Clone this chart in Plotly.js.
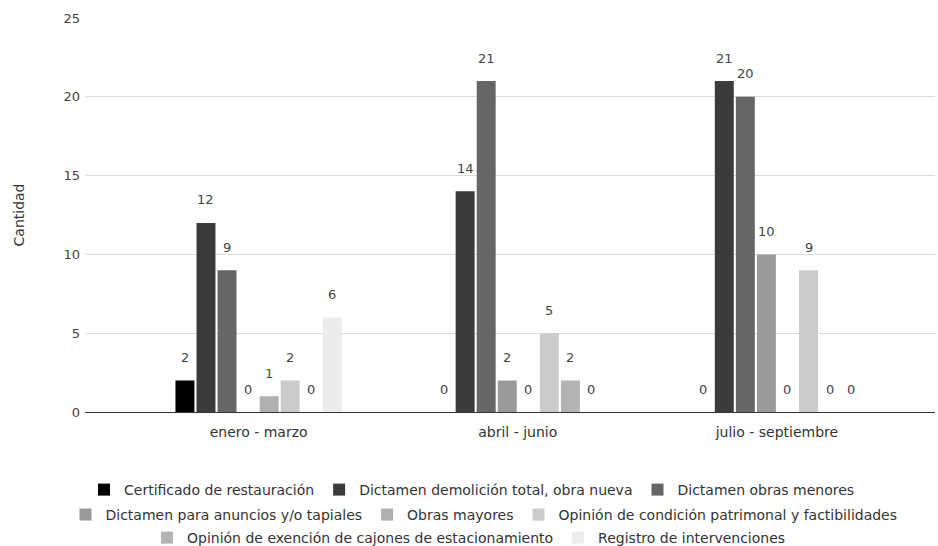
<!DOCTYPE html>
<html>
<head>
<meta charset="utf-8">
<script src="https://cdn.plot.ly/plotly-3.0.1.min.js"></script>
<style>html,body{margin:0;padding:0;background:#fff;}#chart{width:938px;height:546px;}</style>
</head>
<body>
<div id="chart"></div>
<script>
// ---- data ----
const categories = ["enero - marzo", "abril - junio", "julio - septiembre"];
const seriesNames = [
  "Certificado de restauración",
  "Dictamen demolición total, obra nueva",
  "Dictamen obras menores",
  "Dictamen para anuncios y/o tapiales",
  "Obras mayores",
  "Opinión de condición patrimonal y factibilidades",
  "Opinión de exención de cajones de estacionamiento",
  "Registro de intervenciones"
];
const certificado = [2, 0, 0];
const demolicion = [12, 14, 21];
const obrasMenores = [9, 21, 20];
const anuncios = [0, 2, 10];
const obrasMayores = [1, 0, 0];
const opinionCondicion = [2, 5, 9];
const exencionCajones = [0, 2, 0];
const registro = [6, 0, 0];
const seriesValues = [certificado, demolicion, obrasMenores, anuncios, obrasMayores, opinionCondicion, exencionCajones, registro];
const yTicks = [0, 5, 10, 15, 20, 25];

// ---- styles ----
const colors = ["#000000", "#3b3b3b", "#666666", "#9a9a9a", "#b0b0b0", "#cbcbcb", "#b3b3b3", "#ececec"];
const legendFor = ["legend", "legend", "legend", "legend2", "legend2", "legend2", "legend3", "legend3"];

const W = 938, H = 546;
const margin = {l: 85, r: 3, t: 18, b: 134};
const xRange = [-0.67, 2.61];
const bargap = 0.35;
const nSeries = seriesNames.length;
const plotW = W - margin.l - margin.r;
const unitPx = plotW / (xRange[1] - xRange[0]);
const slotPx = unitPx * (1 - bargap) / nSeries;

const font = "DejaVu Sans, Verdana, sans-serif";

const traces = seriesNames.map((name, i) => ({
  type: "bar",
  name: name,
  x: categories,
  y: seriesValues[i],
  marker: {color: colors[i], line: {width: 0}},
  legend: legendFor[i],
  hoverinfo: "x+y+name"
}));

const annotations = [];
seriesValues.forEach((vals, i) => {
  vals.forEach((v, j) => {
    annotations.push({
      x: categories[j], y: v, xref: "x", yref: "y",
      text: String(v), showarrow: false,
      xshift: (i - (nSeries - 1) / 2) * slotPx,
      yshift: 23, yanchor: "middle",
      font: {family: font, size: 13, color: "#444"}
    });
  });
});

const legendBase = {
  orientation: "h", xref: "container", yref: "container",
  xanchor: "center", yanchor: "middle",
  font: {family: font, size: 14, color: "#333"},
  bgcolor: "rgba(0,0,0,0)", itemwidth: 30, tracegroupgap: 0
};

const layout = {
  width: W, height: H,
  margin: margin,
  paper_bgcolor: "#ffffff", plot_bgcolor: "#ffffff",
  font: {family: font, color: "#333"},
  barmode: "group", bargap: bargap, bargroupgap: 0.1,
  showlegend: true,
  xaxis: {
    type: "category", range: xRange, showgrid: false, zeroline: false,
    ticks: "", showline: false, ticklabelstandoff: 10,
    tickfont: {family: font, size: 14, color: "#333"}, fixedrange: true
  },
  yaxis: {
    range: [0, 25], tickvals: yTicks, showgrid: true, gridcolor: "#dcdcdc", gridwidth: 1,
    zeroline: true, zerolinecolor: "#333", zerolinewidth: 1,
    ticks: "", showline: false, ticklabelstandoff: 4,
    tickfont: {family: font, size: 13, color: "#444"},
    title: {text: "Cantidad", standoff: 35, font: {family: font, size: 14, color: "#333"}},
    automargin: false, fixedrange: true
  },
  legend: Object.assign({}, legendBase, {x: 472 / W, y: 1 - 490 / H}),
  legend2: Object.assign({}, legendBase, {x: 484 / W, y: 1 - 515 / H}),
  legend3: Object.assign({}, legendBase, {x: 469 / W, y: 1 - 538 / H}),
  annotations: annotations
};

Plotly.newPlot("chart", traces, layout, {displayModeBar: false, staticPlot: true});
</script>
</body>
</html>
